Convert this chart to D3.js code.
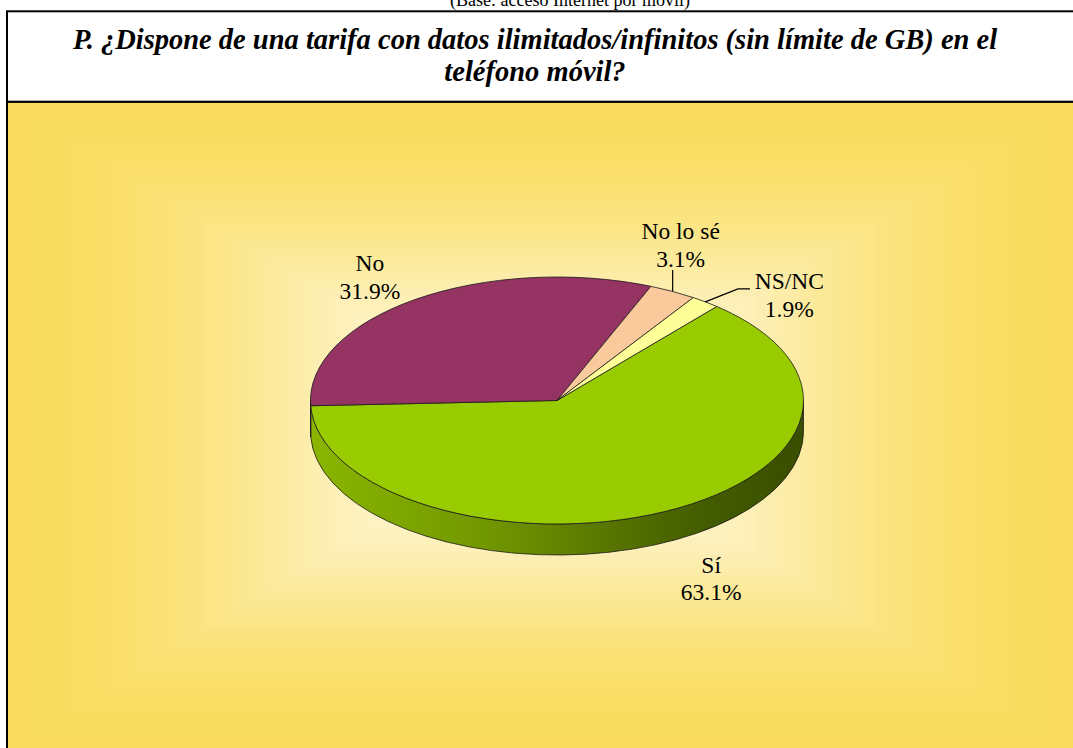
<!DOCTYPE html>
<html>
<head>
<meta charset="utf-8">
<script src="https://cdn.jsdelivr.net/npm/d3@7"></script>
<style>
  html, body { margin: 0; padding: 0; background: #fff; }
  svg { display: block; }
</style>
</head>
<body>
<svg id="chart"></svg>
<script>
// data
const categories = ["Sí", "No", "No lo sé", "NS/NC"];
const values = [63.1, 31.9, 3.1, 1.9];
const topColors = ["#99cc00", "#953363", "#fac99c", "#ffff99"];
const sideColors = ["url(#sideSi)", "#6b2447", "#b88f6c", "#b8b86c"];

const titleLines = [
  "P. ¿Dispone de una tarifa con datos ilimitados/infinitos (sin límite de GB) en el",
  "teléfono móvil?"
];
const baseText = "(Base: acceso Internet por móvil)";

const W = 1073, H = 748;
const serif = "Times New Roman";

const svg = d3.select("#chart")
  .attr("width", W)
  .attr("height", H);

const defs = svg.append("defs");

// header text (cut at the top, as in the source)
svg.append("text")
  .attr("x", 570)
  .attr("y", 6)
  .attr("text-anchor", "middle")
  .attr("font-family", serif)
  .style("font-size", "18px")
  .text(baseText);

// chart area with rectangular "from centre" gradient
const area = {x: 7, y: 101.7, w: 1100, h: 700};
const grad = {cx: 541, cy: 425, hw: 533, hh: 322};

defs.append("clipPath").attr("id", "areaClip")
  .append("rect")
  .attr("x", area.x).attr("y", area.y)
  .attr("width", area.w).attr("height", area.h);

const bgColor = d3.interpolateRgb("#fef7da", "#f9dc5c");
const steps = d3.range(60, 0, -1).map(i => i / 60);

svg.append("g")
  .attr("clip-path", "url(#areaClip)")
  .selectAll("rect")
  .data(steps)
  .enter()
  .append("rect")
  .attr("x", t => grad.cx - grad.hw * t * 1.05)
  .attr("y", t => grad.cy - grad.hh * t * 1.05)
  .attr("width", t => 2 * grad.hw * t * 1.05)
  .attr("height", t => 2 * grad.hh * t * 1.05)
  .attr("fill", t => bgColor(d3.easeQuadInOut(Math.min(1, t))));

svg.append("rect")
  .attr("x", area.x).attr("y", area.y)
  .attr("width", area.w).attr("height", area.h)
  .attr("fill", "none")
  .attr("stroke", "#000")
  .attr("stroke-width", 2);

// title box
svg.append("rect")
  .attr("x", 7).attr("y", 11.3)
  .attr("width", 1100).attr("height", 90.4)
  .attr("fill", "#fff")
  .attr("stroke", "#000")
  .attr("stroke-width", 2);

svg.append("g")
  .selectAll("text")
  .data(titleLines)
  .enter()
  .append("text")
  .attr("x", 535)
  .attr("y", (d, i) => 49 + i * 32)
  .attr("text-anchor", "middle")
  .attr("font-family", serif)
  .style("font-size", "28.5px")
  .style("font-weight", "bold")
  .style("font-style", "italic")
  .text(d => d);

/* *** 3D pie *** */
const cx = 557, cy = 400.5, rx = 246.5, ry = 123.5, depth = 31;
const start = 40.4 * Math.PI / 180;

const dataset = categories.map((c, i) => ({name: c, value: values[i], i: i}));

const pie = d3.pie()
  .sort(null)
  .value(d => d.value)
  .startAngle(start)
  .endAngle(start + 2 * Math.PI);

const arcs = pie(dataset);

const pt = (a, dy = 0) => [cx + rx * Math.sin(a), cy - ry * Math.cos(a) + dy];

function topPath(d) {
  const p0 = pt(d.startAngle), p1 = pt(d.endAngle);
  const large = (d.endAngle - d.startAngle) > Math.PI ? 1 : 0;
  return `M${cx},${cy}L${p0[0]},${p0[1]}A${rx},${ry} 0 ${large} 1 ${p1[0]},${p1[1]}Z`;
}

// visible front wall spans angles PI/2 .. 3PI/2 (and the same one turn later)
function sidePath(d) {
  let parts = [];
  [Math.PI / 2, Math.PI / 2 + 2 * Math.PI].forEach(lo => {
    const hi = lo + Math.PI;
    const a0 = Math.max(d.startAngle, lo), a1 = Math.min(d.endAngle, hi);
    if (a1 > a0) {
      const p0 = pt(a0), p1 = pt(a1), q1 = pt(a1, depth), q0 = pt(a0, depth);
      parts.push(`M${p0[0]},${p0[1]}A${rx},${ry} 0 0 1 ${p1[0]},${p1[1]}` +
        `L${q1[0]},${q1[1]}A${rx},${ry} 0 0 0 ${q0[0]},${q0[1]}Z`);
    }
  });
  return parts.join("");
}

const sideGrad = defs.append("linearGradient")
  .attr("id", "sideSi")
  .attr("gradientUnits", "userSpaceOnUse")
  .attr("x1", cx - rx).attr("x2", cx + rx)
  .attr("y1", 0).attr("y2", 0);
[[0, "#8ab600"], [0.35, "#729800"], [0.6, "#587600"], [0.8, "#435c00"], [1, "#3a4e00"]]
  .forEach(s => sideGrad.append("stop").attr("offset", s[0]).attr("stop-color", s[1]));

const gPie = svg.append("g");

gPie.selectAll("path.side")
  .data(arcs)
  .enter()
  .append("path")
  .attr("class", "side")
  .attr("d", sidePath)
  .attr("fill", d => sideColors[d.data.i])
  .attr("stroke", "#1a1a1a")
  .attr("stroke-width", 0.8)
  .attr("stroke-linejoin", "round");

gPie.selectAll("path.top")
  .data(arcs)
  .enter()
  .append("path")
  .attr("class", "top")
  .attr("d", topPath)
  .attr("fill", d => topColors[d.data.i])
  .attr("stroke", "#1a1a1a")
  .attr("stroke-width", 0.8)
  .attr("stroke-linejoin", "round");

/* *** Labels *** */
// offsets from the rim point at the middle of each slice
const labelLayout = {
  "Sí":       {dx: 46,  dy: 61.5},
  "No":       {dx: -45.6, dy: -28.3},
  "No lo sé": {dx: 8,   dy: -52.4, leader: [[0, -21.4]]},
  "NS/NC":    {dx: 84,  dy: -12.6, leader: [[32.7, -12.9], [44.7, -12.9]]}
};
const lineH = 27.5;

const gLab = svg.append("g");

arcs.forEach(d => {
  const mid = (d.startAngle + d.endAngle) / 2;
  const e = pt(mid);
  const L = labelLayout[d.data.name];

  if (L.leader) {
    const pts = [e].concat(L.leader.map(o => [e[0] + o[0], e[1] + o[1]]));
    gLab.append("path")
      .attr("d", d3.line()(pts))
      .attr("fill", "none")
      .attr("stroke", "#000")
      .attr("stroke-width", 1.2);
  }

  const t = gLab.append("text")
    .attr("text-anchor", "middle")
    .attr("font-family", serif)
    .style("font-size", "23.5px");
  [d.data.name, d3.format(".1f")(d.data.value) + "%"].forEach((s, k) => {
    t.append("tspan")
      .attr("x", e[0] + L.dx)
      .attr("y", e[1] + L.dy + k * lineH)
      .text(s);
  });
});
</script>
</body>
</html>
